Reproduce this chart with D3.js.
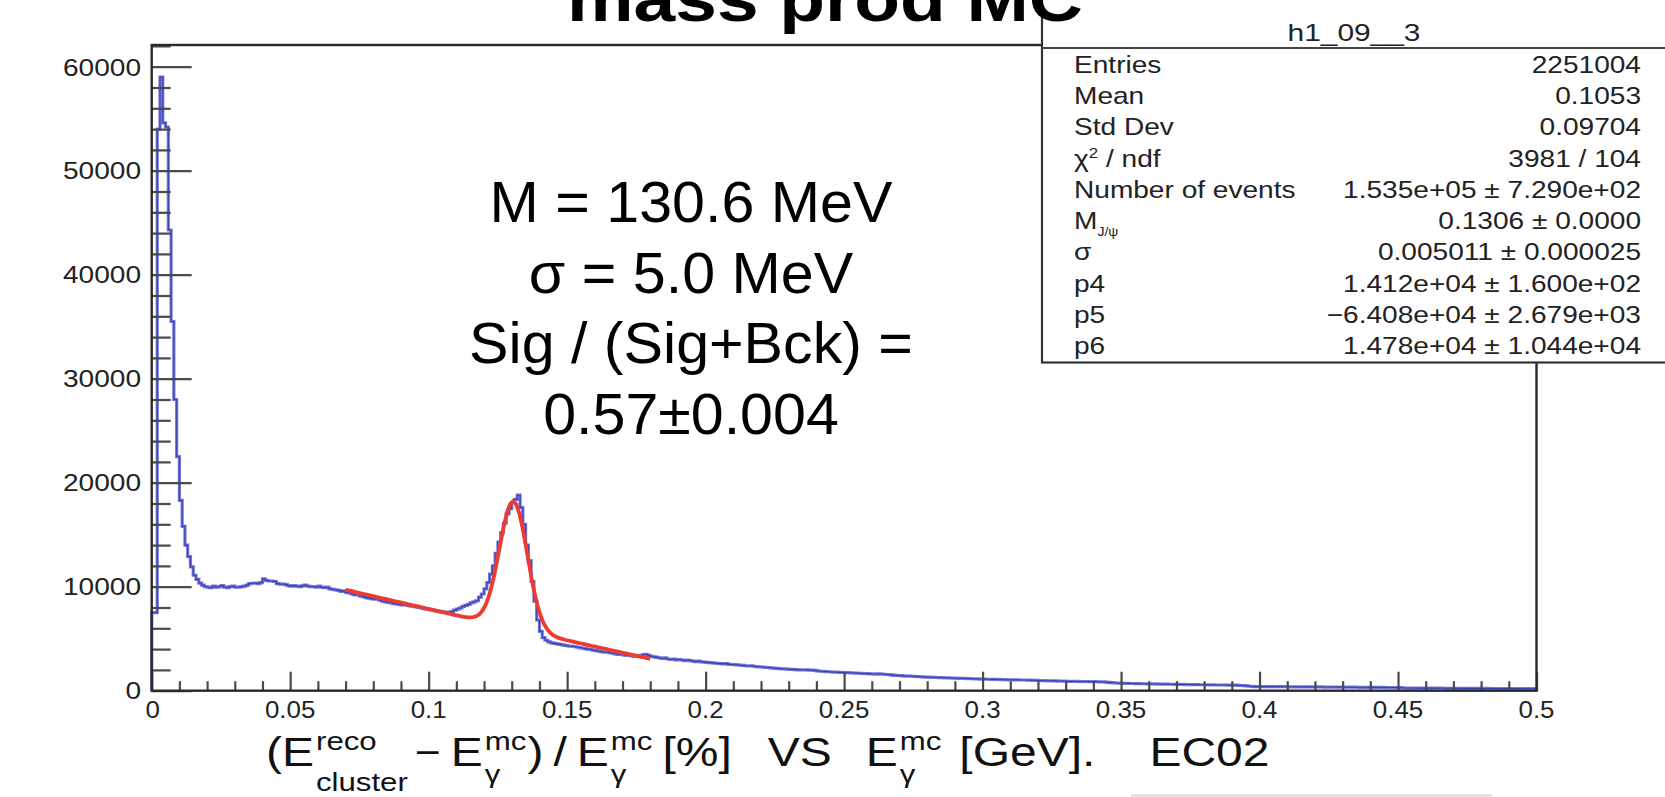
<!DOCTYPE html>
<html><head><meta charset="utf-8">
<script src="https://cdn.jsdelivr.net/npm/d3@7"></script>
<style>
html,body{margin:0;padding:0;background:#fff;overflow:hidden}
svg{display:block}
text{font-family:"Liberation Sans",Arial,Helvetica,sans-serif;white-space:pre}
</style></head><body>
<svg id="c" width="1665" height="797"></svg>
<script>
// h1_09__3 : 500 bins of width 0.001 on [0, 0.5]
const histLow = 0, histHigh = 0.5;
const counts = [
 7500, 7500, 54000, 59000, 54600, 54200, 44300, 35500, 28000, 22500,
 18300, 15800, 14000, 12900, 11900, 11100, 10700, 10350, 10150, 10000,
 9950, 9900, 10050, 9950, 10000, 10100, 9950, 9900, 10000, 10050,
 9950, 9950, 10000, 10050, 10150, 10300, 10330, 10350, 10300, 10400,
 10750, 10600, 10550, 10550, 10500, 10300, 10250, 10260, 10200, 10100,
 10050, 10100, 10050, 10000, 10080, 10150, 10050, 10000, 10000, 9950,
 10050, 9950, 9900, 9950, 9800, 9750, 9700, 9650, 9550, 9600,
 9450, 9400, 9300, 9200, 9250, 9100, 9050, 8950, 8900, 8850,
 8800, 8850, 8700, 8600, 8550, 8500, 8450, 8380, 8350, 8300,
 8250, 8300, 8200, 8150, 8100, 8050, 8000, 7950, 7900, 7850,
 7800, 7750, 7700, 7650, 7600, 7550, 7500, 7550, 7600, 7750,
 7850, 7950, 8100, 8200, 8300, 8450, 8550, 8650, 9000, 9300,
 9800, 10400, 11200, 12000, 13200, 14300, 15200, 16100, 17000, 17500,
 18100, 18400, 18800, 17600, 16000, 14000, 12500, 10500, 8600, 6800,
 5700, 5100, 4850, 4700, 4600, 4550, 4500, 4450, 4400, 4350,
 4300, 4280, 4250, 4200, 4150, 4100, 4050, 4000, 3980, 3900,
 3850, 3800, 3750, 3700, 3720, 3650, 3600, 3550, 3500, 3550,
 3450, 3400, 3420, 3350, 3300, 3350, 3300, 3450, 3500, 3400,
 3300, 3250, 3200, 3150, 3100, 3150, 3050, 3000, 3050, 2950,
 3000, 2950, 2900, 2950, 2900, 2850, 2800, 2850, 2780, 2750,
 2720, 2700, 2680, 2650, 2620, 2600, 2580, 2600, 2540, 2520,
 2500, 2480, 2450, 2430, 2400, 2380, 2400, 2350, 2310, 2300,
 2280, 2250, 2230, 2200, 2180, 2150, 2130, 2100, 2090, 2080,
 2060, 2050, 2030, 2000, 2010, 1990, 2000, 1980, 1990, 1960,
 1900, 1870, 1850, 1830, 1820, 1800, 1790, 1780, 1760, 1750,
 1740, 1730, 1720, 1700, 1690, 1680, 1660, 1650, 1640, 1620,
 1610, 1600, 1620, 1600, 1580, 1560, 1540, 1500, 1480, 1460,
 1440, 1430, 1410, 1400, 1390, 1370, 1350, 1340, 1320, 1310,
 1300, 1290, 1290, 1270, 1260, 1250, 1240, 1230, 1220, 1210,
 1200, 1190, 1190, 1180, 1170, 1160, 1150, 1140, 1130, 1120,
 1110, 1100, 1100, 1090, 1090, 1080, 1070, 1060, 1060, 1050,
 1050, 1040, 1040, 1030, 1030, 1030, 1020, 1010, 1000, 990,
 980, 970, 960, 950, 950, 940, 940, 930, 930, 920,
 910, 900, 900, 890, 890, 880, 880, 880, 870, 870,
 870, 860, 850, 840, 820, 800, 780, 760, 740, 720,
 710, 710, 700, 690, 690, 680, 680, 670, 670, 660,
 660, 650, 650, 640, 640, 630, 630, 620, 620, 610,
 610, 600, 600, 590, 590, 590, 580, 580, 570, 570,
 570, 560, 560, 560, 550, 550, 550, 550, 540, 540,
 540, 530, 520, 500, 480, 460, 430, 410, 390, 390,
 390, 385, 390, 380, 390, 385, 380, 390, 385, 380,
 380, 375, 380, 370, 375, 370, 365, 370, 365, 360,
 360, 355, 360, 350, 355, 350, 345, 350, 345, 340,
 340, 335, 340, 330, 335, 330, 325, 330, 325, 320,
 320, 315, 320, 310, 315, 310, 305, 310, 305, 300,
 300, 280, 260, 255, 260, 250, 255, 250, 245, 250,
 245, 240, 245, 240, 235, 240, 235, 230, 235, 230,
 230, 225, 230, 225, 220, 225, 220, 215, 220, 215,
 215, 210, 215, 210, 205, 210, 205, 200, 205, 200,
 200, 195, 200, 195, 190, 195, 190, 185, 190, 185
];
const yMax = 62087;

const xMajorTicks = [0, 0.05, 0.1, 0.15, 0.2, 0.25, 0.3, 0.35, 0.4, 0.45, 0.5];
const xTickLabels = ["0", "0.05", "0.1", "0.15", "0.2", "0.25", "0.3", "0.35", "0.4", "0.45", "0.5"];
const yMajorTicks = [0, 10000, 20000, 30000, 40000, 50000, 60000];
const yTickLabels = ["0", "10000", "20000", "30000", "40000", "50000", "60000"];

// fit: gaussian signal + 2nd order polynomial background on [0.07, 0.18]
const fitRange = [0.07, 0.18];
const fitEvents = 1.535e5;
const fitMass = 0.1306;
const fitSigma = 0.005011;
const fitP4 = 1.412e4, fitP5 = -6.408e4, fitP6 = 1.478e4;

const statTitle = "h1_09__3";
const statNames = ["Entries", "Mean", "Std Dev", "chi2", "Number of events", "MJpsi", "σ", "p4", "p5", "p6"];
const statValues = ["2251004", "0.1053", "0.09704", "3981 / 104",
  "1.535e+05 ± 7.290e+02", "0.1306 ± 0.0000", "0.005011 ± 0.000025",
  "1.412e+04 ± 1.600e+02", "\u22126.408e+04 ± 2.679e+03", "1.478e+04 ± 1.044e+04"];

const noteLines = ["M = 130.6 MeV", "σ = 5.0 MeV", "Sig / (Sig+Bck) =", "0.57±0.004"];
const titleText = "mass prod MC";

const svg = d3.select("#c");
const x = d3.scaleLinear().domain([histLow, histHigh]).range([151.7, 1536.5]);
const y = d3.scaleLinear().domain([0, yMax]).range([690.7, 45]);

// horizontal stretch of an element about an anchor x
function stretch(sel, sx, ax) {
  sel.attr("transform", `translate(${ax},0) scale(${sx},1) translate(${-ax},0)`);
}

// ---- histogram outline ----
const bw = (histHigh - histLow) / counts.length;
let d = `M${x(histLow)},${y(0)}`;
counts.forEach((c, i) => { d += `V${y(c)}H${x(histLow + (i + 1) * bw)}`; });
d += `V${y(0)}`;
svg.append("path").attr("d", d).attr("fill", "none")
  .attr("stroke", "#7479d9").attr("stroke-width", 3.2);
svg.append("path").attr("d", d).attr("fill", "none")
  .attr("stroke", "#2b30a8").attr("stroke-width", 1.1).attr("stroke-opacity", 0.8);

// ---- fit curve ----
const fitNpx = 100;
const fitXs = d3.range(fitNpx + 1).map(i => fitRange[0] + i * (fitRange[1] - fitRange[0]) / fitNpx);
const fitFn = v => fitEvents * bw / (fitSigma * Math.sqrt(2 * Math.PI)) *
  Math.exp(-0.5 * Math.pow((v - fitMass) / fitSigma, 2)) + fitP4 + fitP5 * v + fitP6 * v * v;
svg.append("path")
  .attr("d", d3.line().x(v => x(v)).y(v => y(fitFn(v)))(fitXs))
  .attr("fill", "none").attr("stroke", "#ee3a30").attr("stroke-width", 3.8);

// ---- axes ticks (drawn inward) ----
const tickColor = "#4a4a4a";
function styleAxis(g) {
  g.select(".domain").remove();
  g.selectAll(".tick line").attr("stroke", tickColor).attr("stroke-width", 2.2);
  g.selectAll(".tick text").remove();
}
const yMinor = d3.range(0, yMax, 2000).filter(v => v % 10000 !== 0);
svg.append("g").attr("transform", `translate(${x(0)},0)`)
  .call(d3.axisRight(y).tickValues(yMinor).tickSize(19).tickFormat("")).call(styleAxis);
svg.append("g").attr("transform", `translate(${x(0)},0)`)
  .call(d3.axisRight(y).tickValues(yMajorTicks).tickSize(40).tickFormat("")).call(styleAxis);
const xMinor = d3.range(0, 51).map(i => i / 100).filter((v, i) => i % 5 !== 0);
svg.append("g").attr("transform", `translate(0,${y(0)})`)
  .call(d3.axisTop(x).tickValues(xMinor).tickSize(9.5).tickFormat("")).call(styleAxis);
svg.append("g").attr("transform", `translate(0,${y(0)})`)
  .call(d3.axisTop(x).tickValues(xMajorTicks).tickSize(19).tickFormat("")).call(styleAxis);

// ---- frame ----
svg.append("rect").attr("x", x(histLow)).attr("y", y(yMax))
  .attr("width", x(histHigh) - x(histLow)).attr("height", y(0) - y(yMax))
  .attr("fill", "none").attr("stroke", "#2a2a2a").attr("stroke-width", 2.4);

// ---- tick labels ----
yMajorTicks.forEach((v, i) => {
  const t = svg.append("text").attr("x", 141).attr("y", y(v) + 8.8)
    .attr("text-anchor", "end").attr("font-size", 24).attr("fill", "#222").text(yTickLabels[i]);
  stretch(t, 1.17, 141);
});
xMajorTicks.forEach((v, i) => {
  const cx = x(v) + (i === 0 ? 1 : 0);
  const t = svg.append("text").attr("x", cx).attr("y", 718)
    .attr("text-anchor", "middle").attr("font-size", 24).attr("fill", "#222").text(xTickLabels[i]);
  stretch(t, 1.08, cx);
});

// ---- x axis title: pieces laid out along the baseline, with super/subscripts ----
(function () {
  const g = svg.append("g");
  const base = 766, big = 40, small = 26, SX = 1.2;
  let cx = 266;
  // main-size piece after a gap; optional fixed width
  function piece(s, gap, width) {
    cx += gap;
    const t = g.append("text").attr("x", cx).attr("y", base).attr("font-size", big).attr("fill", "#111").text(s);
    const w = t.node().getComputedTextLength();
    const sx = width ? width / w : SX;
    stretch(t, sx, cx);
    cx += w * sx;
  }
  function scripts(sup, sub, subDrop) {
    cx += 2;
    const a = g.append("text").attr("x", cx).attr("y", base - 16).attr("font-size", small).attr("fill", "#111").text(sup);
    const b = g.append("text").attr("x", cx).attr("y", base + subDrop).attr("font-size", small).attr("fill", "#111").text(sub);
    stretch(a, SX, cx); stretch(b, SX, cx);
    cx += Math.max(a.node().getComputedTextLength(), b.node().getComputedTextLength()) * SX;
  }
  piece("(E", 0); scripts("reco", "cluster", 25);
  piece("\u2212", 7, 26);
  piece("E", 10); scripts("mc", "\u03b3", 17);
  piece(")", 1);
  piece("/", 10);
  piece("E", 10); scripts("mc", "\u03b3", 17);
  piece("[%]", 10);
  piece("VS", 36);
  piece("E", 34); scripts("mc", "\u03b3", 17);
  piece("[GeV].", 18);
  piece("EC02", 54);
})();

// ---- annotation ----
noteLines.forEach((s, i) => {
  const t = svg.append("text").attr("x", 691).attr("y", 222 + i * 70.7).attr("text-anchor", "middle")
    .attr("font-size", 58).attr("fill", "#000").text(s);
  stretch(t, 1.02, 691);
});

// ---- statistics box ----
(function () {
  const bx = 1042, by = -6, bx1 = 1700, bottom = 362.5;
  svg.append("rect").attr("x", bx).attr("y", by).attr("width", bx1 - bx).attr("height", bottom - by)
    .attr("fill", "#fff").attr("stroke", "#333").attr("stroke-width", 2.2);
  svg.append("line").attr("x1", bx).attr("x2", bx1).attr("y1", 48).attr("y2", 48)
    .attr("stroke", "#444").attr("stroke-width", 2);
  const fs = 24;
  const tt = svg.append("text").attr("x", 1354).attr("y", 41.5).attr("text-anchor", "middle")
    .attr("font-size", 23).attr("fill", "#222").text(statTitle);
  stretch(tt, 1.3, 1354);
  statNames.forEach((n, i) => {
    const yy = 72.7 + i * 31.3;
    const lab = svg.append("text").attr("x", 1074).attr("y", yy).attr("font-size", fs).attr("fill", "#222");
    if (n === "chi2") {
      lab.append("tspan").text("\u03c7");
      lab.append("tspan").attr("font-size", fs * 0.6).attr("dy", -9).text("2");
      lab.append("tspan").attr("dy", 9).text(" / ndf");
    } else if (n === "MJpsi") {
      lab.append("tspan").text("M");
      lab.append("tspan").attr("font-size", fs * 0.5).attr("dy", 7).text("J/\u03c8");
    } else {
      lab.text(n);
    }
    stretch(lab, 1.17, 1074);
    const val = svg.append("text").attr("x", 1641).attr("y", yy).attr("text-anchor", "end")
      .attr("font-size", fs).attr("fill", "#222").text(statValues[i]);
    stretch(val, 1.17, 1641);
  });
})();

// ---- title (overlays the top of the canvas) ----
(function () {
  const t = svg.append("text").attr("x", 825).attr("y", 21).attr("text-anchor", "middle")
    .attr("font-size", 64).attr("font-weight", "bold").attr("fill", "#000").text(titleText);
  const w = t.node().getComputedTextLength();
  stretch(t, 516 / w, 825);
})();

// faint rule along the bottom edge
svg.append("line").attr("x1", 1131).attr("x2", 1492).attr("y1", 795.5).attr("y2", 795.5)
  .attr("stroke", "#d8d8d8").attr("stroke-width", 2);
</script>
</body></html>
